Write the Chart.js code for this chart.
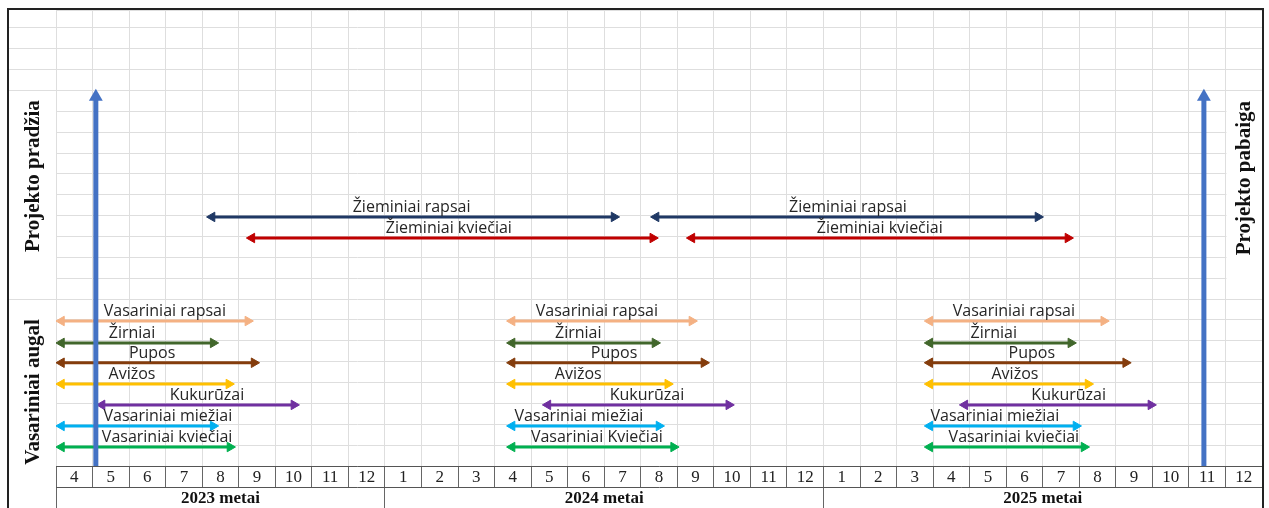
<!DOCTYPE html>
<html>
<head>
<meta charset="utf-8">
<script src="https://cdn.jsdelivr.net/npm/chart.js@4/dist/chart.umd.min.js"></script>
<style>
  body { margin: 0; background: #fff; }
  .frame { position: absolute; left: 7px; top: 8px; width: 1253px; height: 500px;
           border: 2px solid #222; border-bottom: none; }
  .box { position: relative; width: 1253px; height: 498px; }
</style>
</head>
<body>
<div class="frame"><div class="box"><canvas id="c"></canvas></div></div>
<script>
// month columns, April 2023 .. December 2025
var months = ['4','5','6','7','8','9','10','11','12',
              '1','2','3','4','5','6','7','8','9','10','11','12',
              '1','2','3','4','5','6','7','8','9','10','11','12'];
var years = ['2023 metai', '2024 metai', '2025 metai'];
var yearFrom = [0, 9, 21];
var yearTo = [9, 21, 33];

// spring crops (one row each)
var springCrops = ['Vasariniai rapsai', 'Žirniai', 'Pupos', 'Avižos', 'Kukurūzai', 'Vasariniai miežiai', 'Vasariniai kviečiai'];
var springCrops2024 = ['Vasariniai rapsai', 'Žirniai', 'Pupos', 'Avižos', 'Kukurūzai', 'Vasariniai miežiai', 'Vasariniai Kviečiai'];
var springRow = [6.95, 5.9, 4.95, 3.93, 2.93, 1.92, 0.91];

var spring2023From = [0.15, 0.15, 0.15, 0.15, 1.26, 0.15, 0.15];
var spring2023To   = [5.25, 4.3, 5.42, 4.73, 6.51, 4.3, 4.76];
var spring2023Text = [2.98, 2.08, 2.63, 2.08, 4.13, 3.06, 3.04];

var spring2024From = [12.48, 12.48, 12.48, 12.48, 13.46, 12.48, 12.48];
var spring2024To   = [17.4, 16.39, 17.73, 16.74, 18.41, 16.5, 16.9];
var spring2024Text = [14.8, 14.29, 15.27, 14.29, 16.17, 14.31, 14.8];

var spring2025From = [23.91, 23.91, 23.91, 23.91, 24.87, 23.91, 23.91];
var spring2025To   = [28.67, 27.77, 29.27, 28.24, 29.96, 27.91, 28.13];
var spring2025Text = [26.21, 25.66, 26.7, 26.24, 27.71, 25.69, 26.21];

// winter crops
var winterCrops = ['Žieminiai rapsai', 'Žieminiai kviečiai'];
var winterRow = [11.94, 10.93];
var winter2023From = [4.27, 5.36];
var winter2023To   = [15.27, 16.33];
var winter2023Text = [9.73, 10.75];
var winter2024From = [16.42, 17.4];
var winter2024To   = [26.87, 27.69];
var winter2024Text = [21.67, 22.54];

// project start / end markers
var projectLabels = ['Projekto pradžia', 'Projekto pabaiga'];
var projectAt = [1.09, 31.41];
var projectTop = 17.7;
var projectLabelRow = [13.9, 13.8];
var groupLabel = 'Vasariniai augal';
var groupLabelRow = 3.55;

var springColors = ['#F4B183', '#41662B', '#843C0C', '#FFC000', '#7030A0', '#00B0F0', '#00B050'];
var winterColors = ['#1F3864', '#C00000'];
var markerColor = '#4472C4';

function arrow(label, from, to, row, textAt, color) {
    return {
        label: label,
        data: [{x: from, y: row}, {x: to, y: row}],
        showLine: true,
        borderColor: color,
        backgroundColor: color,
        borderWidth: 3,
        pointStyle: 'triangle',
        pointRadius: 5.5,
        pointHoverRadius: 5.5,
        pointBorderWidth: 1,
        pointRotation: [-90, 90],
        textAt: textAt
    };
}

var datasets = [];
projectAt.forEach(function (x) {
    datasets.push({
        label: '',
        data: [{x: x, y: 0}, {x: x, y: projectTop}],
        showLine: true,
        borderColor: markerColor,
        backgroundColor: markerColor,
        borderWidth: 5,
        pointStyle: 'triangle',
        pointRadius: [0, 8],
        pointHoverRadius: [0, 8],
        pointBorderWidth: 0
    });
});
winterCrops.forEach(function (name, i) {
    datasets.push(arrow(name, winter2023From[i], winter2023To[i], winterRow[i], winter2023Text[i], winterColors[i]));
    datasets.push(arrow(name, winter2024From[i], winter2024To[i], winterRow[i], winter2024Text[i], winterColors[i]));
});
springCrops.forEach(function (name, i) {
    datasets.push(arrow(name, spring2023From[i], spring2023To[i], springRow[i], spring2023Text[i], springColors[i]));
    datasets.push(arrow(springCrops2024[i], spring2024From[i], spring2024To[i], springRow[i], spring2024Text[i], springColors[i]));
    datasets.push(arrow(name, spring2025From[i], spring2025To[i], springRow[i], spring2025Text[i], springColors[i]));
});

var yearTicks = [];
years.forEach(function (y, i) {
    yearTicks.push({value: yearFrom[i], label: ''});
    yearTicks.push({value: (yearFrom[i] + yearTo[i]) / 2, label: y});
});
yearTicks.push({value: yearTo[yearTo.length - 1], label: ''});

var textPlugin = {
    id: 'textPlugin',
    beforeDatasetsDraw: function (chart) {
        // merged cell behind "Projekto pabaiga"
        var x = chart.scales.x, y = chart.scales.y, ctx = chart.ctx;
        ctx.save();
        ctx.fillStyle = '#fff';
        ctx.fillRect(x.getPixelForValue(32) + 1, y.getPixelForValue(18) + 1,
                     x.getPixelForValue(33) - x.getPixelForValue(32) - 1,
                     y.getPixelForValue(8) - y.getPixelForValue(18) - 2);
        ctx.restore();
    },
    afterDatasetsDraw: function (chart) {
        var x = chart.scales.x, y = chart.scales.y, ctx = chart.ctx;
        ctx.save();
        ctx.font = '16px "Open Sans"';
        ctx.fillStyle = '#262626';
        ctx.textAlign = 'center';
        ctx.textBaseline = 'alphabetic';
        chart.data.datasets.forEach(function (ds) {
            if (ds.textAt === undefined) return;
            ctx.fillText(ds.label, x.getPixelForValue(ds.textAt), y.getPixelForValue(ds.data[0].y) - 5);
        });

        ctx.font = 'bold 21px "Liberation Serif"';
        ctx.fillStyle = '#111';
        ctx.textBaseline = 'middle';
        var side = [
            [projectLabels[0], chart.chartArea.left / 2, projectLabelRow[0]],
            [groupLabel, chart.chartArea.left / 2, groupLabelRow],
            [projectLabels[1], x.getPixelForValue(32.5), projectLabelRow[1]]
        ];
        side.forEach(function (s) {
            ctx.save();
            ctx.translate(s[1], y.getPixelForValue(s[2]));
            ctx.rotate(-Math.PI / 2);
            ctx.fillText(s[0], 0, 1);
            ctx.restore();
        });
        ctx.restore();
    }
};

Chart.defaults.font.family = '"Liberation Serif"';

new Chart(document.getElementById('c'), {
    type: 'scatter',
    data: { datasets: datasets },
    options: {
        responsive: true,
        maintainAspectRatio: false,
        animation: false,
        layout: { padding: 0, autoPadding: false },
        plugins: { legend: { display: false }, tooltip: { enabled: false } },
        scales: {
            x: {
                type: 'linear', position: 'bottom', min: 0, max: 33,
                afterBuildTicks: function (s) {
                    s.ticks = months.map(function (m, i) { return {value: i + 0.5}; });
                },
                ticks: {
                    autoSkip: false, maxRotation: 0, padding: -20,
                    color: '#222', font: { size: 17 },
                    callback: function (v, i) { return months[i]; }
                },
                grid: { offset: true, color: '#dedede', tickColor: '#666', tickLength: 21 },
                border: { display: true, color: '#555' },
                afterFit: function (s) { s.height = 21; s.paddingLeft = 0; s.paddingRight = 0; }
            },
            xy: {
                type: 'linear', position: 'bottom', min: 0, max: 33,
                afterBuildTicks: function (s) {
                    s.ticks = yearTicks.map(function (t) { return {value: t.value}; });
                },
                ticks: {
                    autoSkip: false, maxRotation: 0, padding: -20,
                    color: '#111', font: { size: 17, weight: 'bold' },
                    callback: function (v, i) { return yearTicks[i].label; }
                },
                grid: {
                    drawOnChartArea: false, tickLength: 21,
                    tickColor: function (c) { return yearTicks[c.index] && yearTicks[c.index].label === '' ? '#666' : 'rgba(0,0,0,0)'; }
                },
                border: { display: true, color: '#555' },
                afterFit: function (s) { s.height = 21; s.paddingLeft = 0; s.paddingRight = 0; }
            },
            y: {
                type: 'linear', position: 'left', min: 0, max: 21.86,
                ticks: { stepSize: 1, display: false },
                grid: {
                    color: '#dedede', tickLength: 47,
                    tickColor: function (c) {
                        var v = c.tick ? c.tick.value : -1;
                        return (v === 8 || v >= 18 && v <= 21) ? '#dedede' : 'rgba(0,0,0,0)';
                    }
                },
                border: { display: false },
                afterFit: function (s) { s.width = 47; s.paddingTop = 0; s.paddingBottom = 0; }
            }
        }
    },
    plugins: [textPlugin]
});
</script>
</body>
</html>
